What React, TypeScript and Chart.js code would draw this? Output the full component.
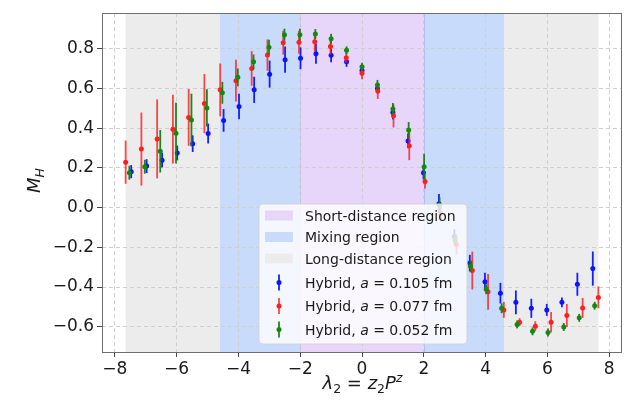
import React, { useEffect, useRef } from 'react';
import { Chart, registerables } from 'chart.js';

Chart.register(...registerables);

// ---------------- data ----------------
const xTicks = [-8, -6, -4, -2, 0, 2, 4, 6, 8];
const yTicks = [-0.6, -0.4, -0.2, 0.0, 0.2, 0.4, 0.6, 0.8];

// Hybrid, a = 0.105 fm
const blueX = [-7.47, -6.97, -6.47, -5.98, -5.48, -4.98, -4.48, -3.98, -3.49, -2.99, -2.49, -1.99, -1.49, -1.0, -0.5, 0.0, 0.5, 1.0, 1.49, 1.99, 2.49, 2.99, 3.49, 3.98, 4.48, 4.98, 5.48, 5.98, 6.47, 6.97, 7.47];
const blueY = [0.181, 0.209, 0.239, 0.275, 0.322, 0.373, 0.439, 0.509, 0.593, 0.672, 0.745, 0.752, 0.775, 0.767, 0.734, 0.69, 0.6, 0.479, 0.336, 0.176, 0.02, -0.146, -0.279, -0.373, -0.431, -0.477, -0.507, -0.515, -0.477, -0.386, -0.307];
const blueErr = [0.033, 0.035, 0.037, 0.037, 0.042, 0.05, 0.057, 0.064, 0.066, 0.068, 0.066, 0.055, 0.05, 0.035, 0.025, 0.02, 0.025, 0.035, 0.037, 0.033, 0.048, 0.037, 0.041, 0.045, 0.052, 0.06, 0.048, 0.03, 0.025, 0.058, 0.086];

// Hybrid, a = 0.077 fm
const redX = [-7.65, -7.14, -6.63, -6.12, -5.61, -5.1, -4.59, -4.08, -3.57, -3.06, -2.55, -2.04, -1.53, -1.02, -0.51, 0.0, 0.51, 1.02, 1.53, 2.04, 2.55, 3.06, 3.57, 4.08, 4.59, 5.1, 5.61, 6.12, 6.63, 7.14, 7.65];
const redY = [0.229, 0.295, 0.346, 0.395, 0.454, 0.524, 0.593, 0.639, 0.701, 0.768, 0.83, 0.833, 0.835, 0.811, 0.755, 0.677, 0.587, 0.462, 0.312, 0.131, -0.03, -0.186, -0.317, -0.424, -0.515, -0.577, -0.597, -0.577, -0.543, -0.505, -0.452];
const redErr = [0.109, 0.184, 0.199, 0.173, 0.143, 0.149, 0.133, 0.105, 0.087, 0.079, 0.06, 0.058, 0.05, 0.04, 0.025, 0.03, 0.04, 0.058, 0.073, 0.035, 0.04, 0.05, 0.095, 0.09, 0.04, 0.02, 0.025, 0.052, 0.058, 0.05, 0.055];

// Hybrid, a = 0.052 fm
const greenX = [-7.53, -7.03, -6.53, -6.02, -5.52, -5.02, -4.52, -4.02, -3.51, -3.01, -2.51, -2.01, -1.51, -1.0, -0.5, 0.0, 0.5, 1.0, 1.51, 2.01, 2.51, 3.01, 3.51, 4.02, 4.52, 5.02, 5.52, 6.02, 6.53, 7.03, 7.53];
const greenY = [0.176, 0.206, 0.284, 0.375, 0.441, 0.502, 0.578, 0.656, 0.734, 0.808, 0.871, 0.871, 0.874, 0.85, 0.792, 0.709, 0.618, 0.497, 0.391, 0.206, 0.012, -0.161, -0.295, -0.411, -0.507, -0.588, -0.623, -0.629, -0.601, -0.555, -0.494];
const greenErr = [0.035, 0.035, 0.107, 0.153, 0.133, 0.094, 0.055, 0.045, 0.037, 0.037, 0.03, 0.03, 0.025, 0.025, 0.02, 0.02, 0.025, 0.03, 0.04, 0.065, 0.04, 0.03, 0.03, 0.025, 0.025, 0.02, 0.02, 0.02, 0.02, 0.02, 0.02];

const seriesSpacings = ['0.105', '0.077', '0.052'];

// regions (lambda ranges)
const regionLabels = ['Short-distance region', 'Mixing region', 'Long-distance region'];
const shortRanges = [[-2, 2]];
const mixingRanges = [[-4.6, -2], [2, 4.6]];
const longRanges = [[-7.65, -4.6], [4.6, 7.65]];

// ---------------- styles ----------------
const FONT = '"DejaVu Sans", sans-serif';
const regionColors = ['#e7d5fa', '#c9dbfa', '#ececec'];
const seriesColors = ['#0a14ff', '#ff1f1f', '#128a12'];
const errColors = ['rgba(10,20,255,0.95)', 'rgba(255,30,30,0.82)', 'rgba(18,128,18,0.95)'];

type Part = { t: string; it?: boolean; s?: number; dy?: number };

function measureParts(ctx: CanvasRenderingContext2D, parts: Part[], base: number) {
  let w = 0;
  for (const p of parts) {
    ctx.font = `${p.it ? 'italic ' : ''}${p.s ?? base}px ${FONT}`;
    w += ctx.measureText(p.t).width;
  }
  return w;
}

function drawParts(ctx: CanvasRenderingContext2D, parts: Part[], x: number, y: number, base: number, align: 'left' | 'center') {
  let cx = x;
  if (align === 'center') cx = x - measureParts(ctx, parts, base) / 2;
  ctx.textAlign = 'left';
  ctx.textBaseline = 'alphabetic';
  for (const p of parts) {
    ctx.font = `${p.it ? 'italic ' : ''}${p.s ?? base}px ${FONT}`;
    ctx.fillText(p.t, cx, y + (p.dy ?? 0));
    cx += ctx.measureText(p.t).width;
  }
}

const regionPlugin = {
  id: 'regionShading',
  beforeDraw(chart: any) {
    const { ctx, chartArea: a, scales } = chart;
    const xs = scales.x;
    ctx.save();
    ctx.fillStyle = '#ffffff';
    ctx.fillRect(0, 0, chart.width, chart.height);
    const groups = [longRanges, mixingRanges, shortRanges];
    const cols = [regionColors[2], regionColors[1], regionColors[0]];
    groups.forEach((g, gi) => {
      ctx.fillStyle = cols[gi];
      for (const r of g) {
        const x0 = xs.getPixelForValue(r[0]);
        const x1 = xs.getPixelForValue(r[1]);
        ctx.fillRect(x0, a.top, x1 - x0, a.bottom - a.top);
      }
    });
    ctx.strokeStyle = 'rgba(170,160,235,0.6)';
    ctx.lineWidth = 1;
    for (const r of shortRanges) {
      for (const v of r) {
        const px = Math.round(xs.getPixelForValue(v)) + 0.5;
        ctx.beginPath();
        ctx.moveTo(px, a.top);
        ctx.lineTo(px, a.bottom);
        ctx.stroke();
      }
    }
    ctx.restore();
  },
};

const errorBarPlugin = {
  id: 'errorBars',
  beforeDatasetDraw(chart: any, args: any) {
    const { ctx, scales } = chart;
    const ys = scales.y;
    const idx = args.index;
    const errs = [blueErr, redErr, greenErr][idx];
    const vals = [blueY, redY, greenY][idx];
    ctx.save();
    ctx.strokeStyle = errColors[idx];
    ctx.lineWidth = 1.8;
    args.meta.data.forEach((pt: any, i: number) => {
      const top = ys.getPixelForValue(vals[i] + errs[i]);
      const bot = ys.getPixelForValue(vals[i] - errs[i]);
      ctx.beginPath();
      ctx.moveTo(pt.x, top);
      ctx.lineTo(pt.x, bot);
      ctx.stroke();
    });
    ctx.restore();
  },
};

const decorPlugin = {
  id: 'decor',
  afterDraw(chart: any) {
    const { ctx, chartArea: a } = chart;
    ctx.save();
    ctx.strokeStyle = '#6e6e6e';
    ctx.lineWidth = 1;
    ctx.strokeRect(Math.round(a.left) + 0.5, Math.round(a.top) + 0.5, Math.round(a.right - a.left) - 1, Math.round(a.bottom - a.top));

    const lx = 259, ly = 204, lw = 208, lh = 140, rr = 4;
    ctx.beginPath();
    ctx.moveTo(lx + rr, ly);
    ctx.lineTo(lx + lw - rr, ly);
    ctx.quadraticCurveTo(lx + lw, ly, lx + lw, ly + rr);
    ctx.lineTo(lx + lw, ly + lh - rr);
    ctx.quadraticCurveTo(lx + lw, ly + lh, lx + lw - rr, ly + lh);
    ctx.lineTo(lx + rr, ly + lh);
    ctx.quadraticCurveTo(lx, ly + lh, lx, ly + lh - rr);
    ctx.lineTo(lx, ly + rr);
    ctx.quadraticCurveTo(lx, ly, lx + rr, ly);
    ctx.closePath();
    ctx.fillStyle = 'rgba(255,255,255,0.8)';
    ctx.fill();
    ctx.strokeStyle = 'rgba(210,210,210,0.9)';
    ctx.lineWidth = 1;
    ctx.stroke();

    const rowY = [215.5, 237, 258.5, 282.5, 306, 329.5];
    regionLabels.forEach((lab, i) => {
      ctx.fillStyle = regionColors[i];
      ctx.fillRect(265, rowY[i] - 5, 28, 10);
      ctx.fillStyle = '#1a1a1a';
      drawParts(ctx, [{ t: lab }], 305, rowY[i] + 5, 14, 'left');
    });
    seriesSpacings.forEach((sp, i) => {
      const cy = rowY[3 + i];
      ctx.strokeStyle = errColors[i];
      ctx.lineWidth = 1.8;
      ctx.beginPath();
      ctx.moveTo(279, cy - 8);
      ctx.lineTo(279, cy + 8);
      ctx.stroke();
      ctx.fillStyle = seriesColors[i];
      ctx.beginPath();
      ctx.arc(279, cy, 2.5, 0, Math.PI * 2);
      ctx.fill();
      ctx.fillStyle = '#1a1a1a';
      drawParts(ctx, [{ t: 'Hybrid, ' }, { t: 'a', it: true }, { t: ' = ' + sp + ' fm' }], 305, cy + 5, 14, 'left');
    });

    ctx.fillStyle = '#1a1a1a';
    drawParts(ctx, [
      { t: 'λ', it: true },
      { t: '2', s: 12.5, dy: 3.5 },
      { t: ' = ' },
      { t: 'z', it: true },
      { t: '2', s: 12.5, dy: 3.5 },
      { t: 'P', it: true },
      { t: 'z', it: true, s: 12.5, dy: -7.5 },
    ], 362.5, 389, 18, 'center');

    ctx.translate(40, 180.5);
    ctx.rotate(-Math.PI / 2);
    drawParts(ctx, [
      { t: 'M', it: true },
      { t: 'H', it: true, s: 12.5, dy: 3.5 },
    ], 0, 0, 18, 'center');
    ctx.restore();
  },
};

const fmtNum = (v: number, d: number) => {
  const s = Math.abs(v) < 1e-9 ? (0).toFixed(d) : v.toFixed(d);
  return s.replace('-', '\u2212');
};

export default function App() {
  const ref = useRef<HTMLCanvasElement | null>(null);

  useEffect(() => {
    if (!ref.current) return;
    const mk = (xs: number[], ys: number[]) => xs.map((x, i) => ({ x, y: ys[i] }));
    const chart = new Chart(ref.current, {
      type: 'scatter',
      data: {
        datasets: [
          { label: 'Hybrid, a = 0.105 fm', data: mk(blueX, blueY), backgroundColor: seriesColors[0], borderWidth: 0, pointRadius: 2.5, order: 3 },
          { label: 'Hybrid, a = 0.077 fm', data: mk(redX, redY), backgroundColor: seriesColors[1], borderWidth: 0, pointRadius: 2.5, order: 2 },
          { label: 'Hybrid, a = 0.052 fm', data: mk(greenX, greenY), backgroundColor: seriesColors[2], borderWidth: 0, pointRadius: 2.5, order: 1 },
        ],
      },
      options: {
        animation: false,
        responsive: false,
        devicePixelRatio: 1,
        layout: { padding: { left: 0, right: 3.5, top: 8.3, bottom: 0 } },
        plugins: { legend: { display: false }, tooltip: { enabled: false } },
        scales: {
          x: {
            type: 'linear',
            min: -8.415,
            max: 8.415,
            afterFit: (s: any) => { s.height = 49; },
            afterBuildTicks: (s: any) => { s.ticks = xTicks.map((v) => ({ value: v })); },
            ticks: {
              callback: (v: any) => fmtNum(Number(v), 0),
              font: { family: FONT, size: 17 },
              color: '#1a1a1a',
              padding: 2,
              maxRotation: 0,
              autoSkip: false,
            },
            grid: { color: '#cfcfcf', lineWidth: 1, tickColor: '#444', tickLength: 5, tickWidth: 1 },
            border: { display: false, dash: [4, 3] },
          },
          y: {
            type: 'linear',
            min: -0.727,
            max: 0.979,
            afterFit: (s: any) => { s.width = 102; },
            afterBuildTicks: (s: any) => { s.ticks = yTicks.map((v) => ({ value: v })); },
            ticks: {
              callback: (v: any) => fmtNum(Number(v), 1),
              font: { family: FONT, size: 17 },
              color: '#1a1a1a',
              padding: 3,
              autoSkip: false,
            },
            grid: { color: '#cfcfcf', lineWidth: 1, tickColor: '#444', tickLength: 5, tickWidth: 1 },
            border: { display: false, dash: [4, 3] },
          },
        },
      } as any,
      plugins: [regionPlugin, errorBarPlugin, decorPlugin],
    });
    return () => chart.destroy();
  }, []);

  return (
    <div style={{ position: 'fixed', left: 0, top: 0, width: 626, height: 401, background: '#fff' }}>
      <canvas ref={ref} width={626} height={401} style={{ display: 'block', width: 626, height: 401 }} />
    </div>
  );
}
